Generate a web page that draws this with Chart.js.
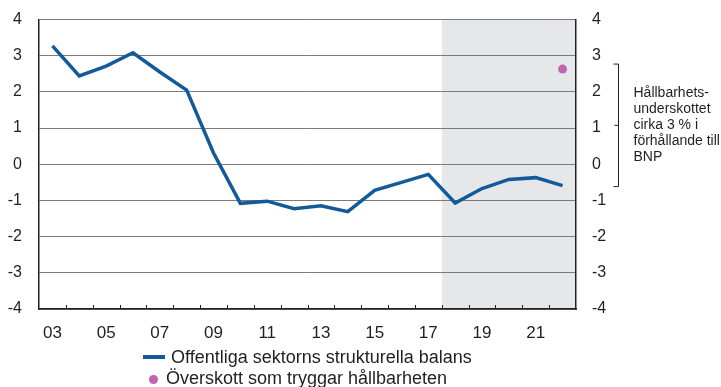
<!DOCTYPE html>
<html>
<head>
<meta charset="utf-8">
<script src="https://cdn.jsdelivr.net/npm/chart.js@4/dist/chart.umd.min.js"></script>
<style>
  html, body { margin: 0; padding: 0; background: #fff; }
  #wrap { position: relative; width: 721px; height: 387px; font-family: "Liberation Sans", Arial, sans-serif; color: #231f20; }
  #legend { position: absolute; left: 0; top: 0; font-size: 18px; }
  .item { position: absolute; white-space: nowrap; line-height: 20px; }
  .swatch-line { position: absolute; width: 22px; height: 4px; background: #135b98; }
  .swatch-dot { position: absolute; width: 9px; height: 9px; border-radius: 50%; background: #c064b0; }
</style>
</head>
<body>
<div id="wrap">
  <canvas id="myChart" width="721" height="387"></canvas>
  <div id="legend">
    <div class="swatch-line" style="left:143px; top:355px;"></div>
    <div class="item" style="left:171px; top:347px;">Offentliga sektorns strukturella balans</div>
    <div class="swatch-dot" style="left:149px; top:375px;"></div>
    <div class="item" style="left:166px; top:368px;">Överskott som tryggar hållbarheten</div>
  </div>
</div>
<script>
const years = ['03', '04', '05', '06', '07', '08', '09', '10', '11', '12',
  '13', '14', '15', '16', '17', '18', '19', '20', '21', '22'];
// structural balance, percent of GDP
const balans = [3.27, 2.44, 2.71, 3.08, 2.55, 2.05, 0.31, -1.08, -1.02, -1.23,
  -1.15, -1.31, -0.72, -0.5, -0.28, -1.07, -0.67, -0.42, -0.37, -0.59];
// surplus needed for sustainability, only the last year
const overskott = [null, null, null, null, null, null, null, null, null, null,
  null, null, null, null, null, null, null, null, null, 2.63];
const forecastFrom = '18';
const yTicks = [-4, -3, -2, -1, 0, 1, 2, 3, 4];
const noteLines = ['Hållbarhets-', 'underskottet', 'cirka 3 % i', 'förhållande till', 'BNP'];

const FONT = '"Liberation Sans", Arial, sans-serif';
const TEXT = '#231f20';

// grey background behind the forecast years
const shade = {
  id: 'shade',
  beforeDraw(chart) {
    const { ctx, chartArea, scales } = chart;
    const x = scales.x;
    const i = years.indexOf(forecastFrom);
    const step = x.getPixelForValue(1) - x.getPixelForValue(0);
    const left = x.getPixelForValue(i) - step / 2;
    ctx.save();
    ctx.fillStyle = '#e6e7e9';
    ctx.fillRect(left, chartArea.top, chartArea.right - left, chartArea.bottom - chartArea.top);
    ctx.restore();
  }
};

// small inward ticks on the x axis and the bracket note on the right
const extras = {
  id: 'extras',
  afterDraw(chart) {
    const { ctx, chartArea, scales } = chart;
    const x = scales.x, y = scales.y;
    const step = x.getPixelForValue(1) - x.getPixelForValue(0);
    ctx.save();
    ctx.strokeStyle = '#231f20';
    ctx.lineWidth = 1;
    ctx.beginPath();
    for (let i = 1; i < years.length; i++) {
      const px = Math.round(x.getPixelForValue(i) - step / 2) + 0.5;
      ctx.moveTo(px, chartArea.bottom);
      ctx.lineTo(px, chartArea.bottom - 4);
    }
    ctx.stroke();

    const top = y.getPixelForValue(overskott[overskott.length - 1]) - 5;
    const bottom = y.getPixelForValue(balans[balans.length - 1]) + 1;
    const mid = (top + bottom) / 2;
    const bx = chartArea.right + 42.5;
    ctx.beginPath();
    ctx.moveTo(bx - 5, top);
    ctx.lineTo(bx, top);
    ctx.lineTo(bx, bottom);
    ctx.lineTo(bx - 5, bottom);
    ctx.moveTo(bx, mid);
    ctx.lineTo(bx - 4, mid);
    ctx.stroke();

    ctx.fillStyle = TEXT;
    ctx.font = '14px ' + FONT;
    ctx.textBaseline = 'middle';
    ctx.textAlign = 'left';
    const lh = 16;
    noteLines.forEach((t, k) => {
      ctx.fillText(t, bx + 15, mid + (k - (noteLines.length - 1) / 2) * lh);
    });
    ctx.restore();
  }
};

// fixed axis widths; drop the label overflow padding so the plot keeps its height
const fitY = w => s => {
  s.width = w;
  s.paddingTop = 0;
  s.paddingBottom = 0;
};

const myChart = new Chart('myChart', {
  type: 'line',
  data: {
    labels: years,
    datasets: [
      {
        label: 'Offentliga sektorns strukturella balans',
        data: balans,
        borderColor: '#135b98',
        borderWidth: 3.5,
        pointRadius: 0,
        tension: 0,
        yAxisID: 'y'
      },
      {
        label: 'Överskott som tryggar hållbarheten',
        data: overskott,
        showLine: false,
        pointRadius: 4.5,
        pointBackgroundColor: '#c064b0',
        pointBorderWidth: 0,
        yAxisID: 'y'
      }
    ]
  },
  options: {
    responsive: false,
    animation: false,
    layout: { padding: { top: 19.5, left: 0, right: 0, bottom: 0 } },
    plugins: { legend: { display: false }, tooltip: { enabled: false } },
    scales: {
      x: {
        offset: true,
        grid: { display: false, offset: true },
        border: { color: '#231f20', width: 1.5 },
        ticks: {
          autoSkip: false,
          maxRotation: 0,
          padding: 6,
          color: TEXT,
          font: { family: FONT, size: 17 },
          callback: (v, i) => (i % 2 === 0 ? years[i] : '')
        },
        afterFit: s => { s.height = 78; }
      },
      y: {
        position: 'left',
        min: -4,
        max: 4,
        afterBuildTicks: s => { s.ticks = yTicks.map(v => ({ value: v })); },
        grid: { color: '#7a7a7a', lineWidth: 1, drawTicks: false },
        border: { color: '#231f20', width: 1.5 },
        ticks: { padding: 17, color: TEXT, font: { family: FONT, size: 16 } },
        afterFit: fitY(39)
      },
      y2: {
        position: 'right',
        min: -4,
        max: 4,
        afterBuildTicks: s => { s.ticks = yTicks.map(v => ({ value: v })); },
        grid: { display: false, drawTicks: false },
        border: { color: '#231f20', width: 1.5 },
        ticks: { padding: 16, color: TEXT, font: { family: FONT, size: 16 } },
        afterFit: fitY(145)
      }
    }
  },
  plugins: [shade, extras]
});
</script>
</body>
</html>
